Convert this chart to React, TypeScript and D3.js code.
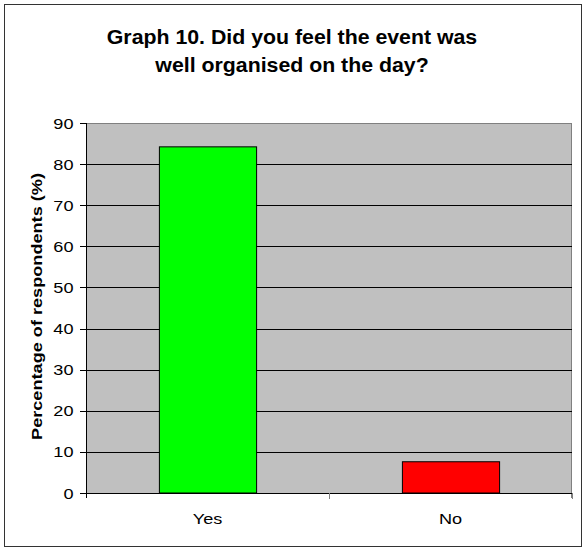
import React from "react";
import * as d3 from "d3";

const categories = ["Yes", "No"];
const values = [84.2, 7.6];
const barColors = ["#00FF00", "#FF0000"];
const yTicks = [0, 10, 20, 30, 40, 50, 60, 70, 80, 90];
const titleLines = ["Graph 10. Did you feel the event was", "well organised on the day?"];
const yLabel = "Percentage of respondents (%)";

export default function App() {
  const W = 583, H = 548;
  const left = 86, right = 572, top = 123, bottom = 493;
  const x = d3.scaleBand<string>().domain(categories).range([left, right]).padding(0);
  const y = d3.scaleLinear().domain([0, 90]).range([bottom, top]);
  const bw = x.bandwidth() * 0.4;
  const font = "'Liberation Sans', Arial, sans-serif";
  const sx = 1.17;
  return (
    <svg width={W} height={H} style={{ position: "absolute", left: 0, top: 0 }} fontFamily={font}>
      <rect x={0} y={0} width={W} height={H} fill="#fff" />
      <rect x={4.5} y={4.5} width={577} height={542} fill="none" stroke="#333" strokeWidth={1} />
      {titleLines.map((t, i) => (
        <text key={i} transform={`translate(292, ${44 + i * 28}) scale(1.065,1)`} textAnchor="middle" fontWeight="bold" fontSize={20}>
          {t}
        </text>
      ))}
      <rect x={left} y={top} width={right - left} height={bottom - top} fill="#C0C0C0" />
      <line x1={left} x2={right} y1={top + 0.5} y2={top + 0.5} stroke="#808080" />
      <line x1={right - 0.5} x2={right - 0.5} y1={top} y2={bottom + 5} stroke="#808080" />
      {yTicks.filter((t) => t > 0 && t < 90).map((t) => (
        <line key={t} x1={left} x2={right} y1={Math.round(y(t)) + 0.5} y2={Math.round(y(t)) + 0.5} stroke="#000" />
      ))}
      {categories.map((c, i) => {
        const cx = (x(c) as number) + x.bandwidth() / 2;
        return (
          <rect key={c} x={cx - bw / 2 + 0.5} y={y(values[i])} width={bw} height={bottom - y(values[i])}
            fill={barColors[i]} stroke="#000" strokeWidth={1} />
        );
      })}
      <line x1={left + 0.5} x2={left + 0.5} y1={top} y2={bottom + 5} stroke="#000" />
      <line x1={left} x2={right} y1={bottom + 0.5} y2={bottom + 0.5} stroke="#000" />
      {[...categories.map((c) => x(c) as number), right].slice(1).map((tx, i) => (
        <line key={i} x1={tx + 0.5} x2={tx + 0.5} y1={bottom} y2={bottom + 6} stroke="#808080" />
      ))}
      {yTicks.map((t) => (
        <g key={t}>
          <line x1={left - 6} x2={left} y1={Math.round(y(t)) + 0.5} y2={Math.round(y(t)) + 0.5} stroke="#000" />
          <text transform={`translate(73.5, ${y(t) + 5.5}) scale(${sx},1)`} textAnchor="end" fontSize={15.5}>{t}</text>
        </g>
      ))}
      {categories.map((c) => (
        <text key={c} transform={`translate(${(x(c) as number) + x.bandwidth() / 2}, 524) scale(${sx},1)`} textAnchor="middle" fontSize={15.5}>{c}</text>
      ))}
      <text transform={`translate(42, 306.5) rotate(-90) scale(${sx},1)`} textAnchor="middle" fontWeight="bold" fontSize={15.5}>
        {yLabel}
      </text>
    </svg>
  );
}
